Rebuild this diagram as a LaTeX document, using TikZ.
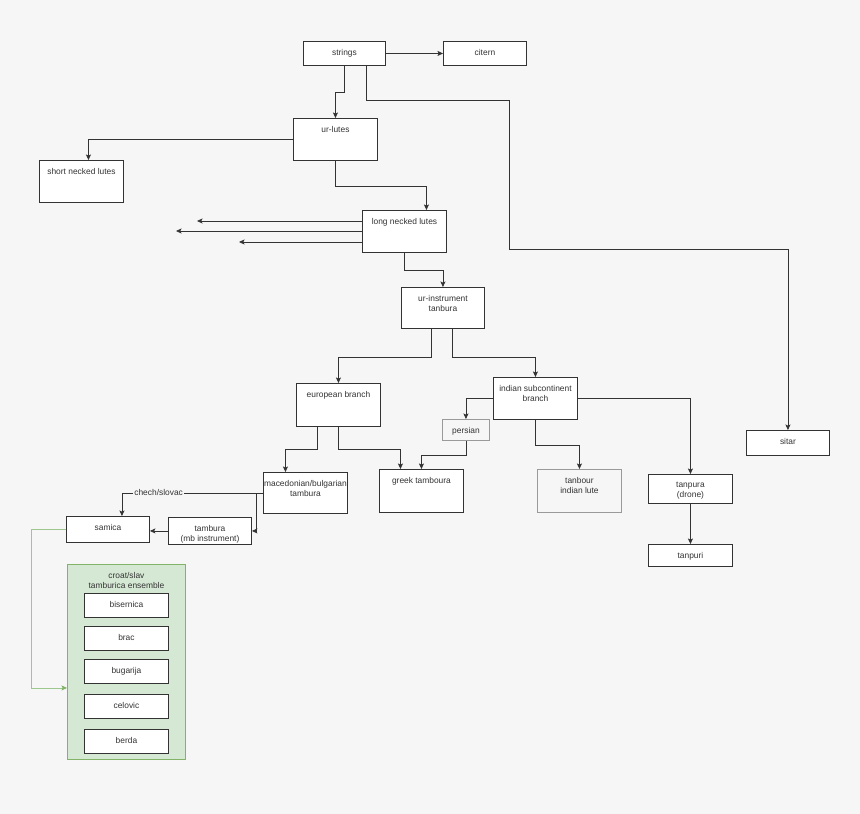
\documentclass[tikz,border=0pt]{standalone}
\usepackage{fontspec}
\setmainfont{Liberation Sans}
\usetikzlibrary{arrows.meta}
\definecolor{bg}{HTML}{F6F6F6}
\definecolor{ink}{HTML}{333333}
\definecolor{gfill}{HTML}{D5E8D4}
\definecolor{gdraw}{HTML}{82B366}
\definecolor{gline}{HTML}{9CC78E}
\definecolor{grayb}{HTML}{9A9A9A}
\newcommand\mybox[7][]{%
  \node[box,#1,minimum width=#5pt,minimum height=#6pt,anchor=north west] (#2) at (#3,#4) {};
  \node[lbl] (#2-t) at ([yshift=-8pt]#2.north) {#7};}
\begin{document}
\begin{tikzpicture}[x=1pt,y=-1pt,
  box/.style={draw=ink,fill=white,line width=0.9pt,inner sep=0pt},
  softbox/.style={draw=grayb,fill=bg},
  groupbox/.style={draw=gdraw,fill=gfill},
  lbl/.style={anchor=north,inner sep=0pt,align=center,text=ink,font=\fontsize{8.4}{10}\selectfont},
  elbl/.style={fill=bg,inner sep=1pt,text=ink,font=\fontsize{8.4}{10}\selectfont},
  arr/.style={draw=ink,line width=0.8pt,-{Stealth[length=5.5pt,width=5pt,inset=1.2pt]}},
  garr/.style={draw=gline,line width=0.8pt,-{Stealth[length=5.5pt,width=5pt,inset=1.2pt,color=gdraw]}}]
\fill[bg] (0,0) rectangle (860,814);
\useasboundingbox (0,0) rectangle (860,814);
% nodes
\mybox{strings}{303}{41}{82}{24}{strings}
\mybox{citern}{443}{41}{83}{24}{citern}
\mybox{urlutes}{293}{118}{84}{42}{ur-lutes}
\mybox{short}{39}{160}{84}{42}{short necked lutes}
\mybox{long}{362}{210}{84}{42}{long necked lutes}
\mybox{urinst}{401}{287}{83}{41}{ur-instrument\\tanbura}
\mybox{euro}{296}{383}{84}{43}{european branch}
\mybox{indian}{493}{377}{84}{42}{indian subcontinent\\branch}
\mybox[softbox]{persian}{442}{419}{47}{21}{persian}
\mybox{greek}{379}{469}{84}{43}{greek tamboura}
\mybox[softbox]{tanbour}{537}{469}{84}{43}{tanbour\\indian lute}
\mybox{tanpura}{648}{474}{84}{29}{tanpura\\(drone)}
\mybox{tanpuri}{648}{544}{84}{22}{tanpuri}
\mybox{sitar}{746}{430}{83}{25}{sitar}
\mybox{maced}{263}{472}{84}{41}{macedonian/bulgarian\\tambura}
\mybox{samica}{66}{516}{83}{26}{samica}
\mybox{tambura}{168}{517}{83}{27}{tambura\\(mb instrument)}
\mybox[groupbox]{croat}{67}{564}{118}{195}{croat/slav\\tamburica ensemble}
\mybox{bisernica}{84}{593}{84}{24}{bisernica}
\mybox{brac}{84}{626}{84}{24}{brac}
\mybox{bugarija}{84}{659}{84}{24}{bugarija}
\mybox{celovic}{84}{694}{84}{24}{celovic}
\mybox{berda}{84}{729}{84}{24}{berda}
% free ends
\coordinate (l1) at (197,221);
\coordinate (l2) at (176,231);
\coordinate (l3) at (239,242);
% connectors
\draw[arr] (strings.east) -- (citern.west);
\draw[arr] (strings.south) -- ++(0,26) -| (urlutes.north);
\draw[arr] ([xshift=22pt]strings.south) -- ++(0,34) -| ++(143,149) -| (sitar.north);
\draw[arr] (urlutes.west) -| ([xshift=7pt]short.north);
\draw[arr] (urlutes.south) -- ++(0,25) -| ([xshift=22pt]long.north);
\draw[arr] (long.west |- l1) -- (l1);
\draw[arr] (long.west |- l2) -- (l2);
\draw[arr] (long.west |- l3) -- (l3);
\draw[arr] (long.south) -- ++(0,17) -| (urinst.north);
\draw[arr] ([xshift=-12pt]urinst.south) -- ++(0,28) -| (euro.north);
\draw[arr] ([xshift=9pt]urinst.south) -- ++(0,28) -| (indian.north);
\draw[arr] (indian.west) -| (persian.north);
\draw[arr] (indian.south) -- ++(0,25) -| (tanbour.north);
\draw[arr] (indian.east) -| (tanpura.north);
\draw[arr] (tanpura.south) -- (tanpuri.north);
\draw[arr] ([xshift=-21pt]euro.south) -- ++(0,22) -| ([xshift=-20pt]maced.north);
\draw[arr] (euro.south) -- ++(0,22) -| ([xshift=-21pt]greek.north);
\draw[arr] (persian.south) -- ++(0,14) -| (greek.north);
\draw[arr] (maced.west) -| node[elbl,pos=0.37]{chech/slovac} ([xshift=14pt]samica.north);
\draw[arr] (maced.west) -- ++(-7,0) |- (tambura.east);
\draw[arr] (tambura.west) -- (samica.east |- tambura.west);
\draw[garr] (samica.west) -- ++(-35,0) |- ([yshift=-26pt]croat.west);
\end{tikzpicture}
\end{document}
